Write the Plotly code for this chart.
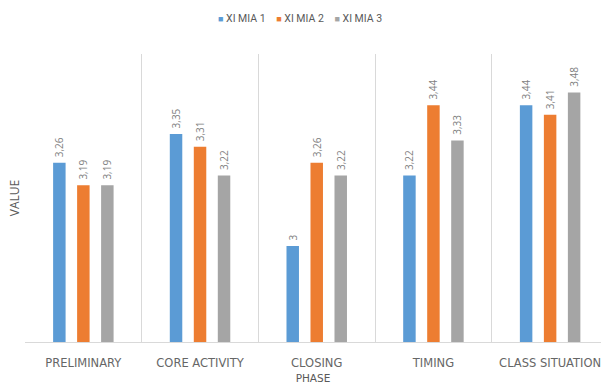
import plotly.graph_objects as go

categories = ["PRELIMINARY", "CORE ACTIVITY", "CLOSING", "TIMING", "CLASS SITUATION"]
series_names = ["XI MIA 1", "XI MIA 2", "XI MIA 3"]
mia1 = [3.26, 3.35, 3.00, 3.22, 3.44]
mia2 = [3.19, 3.31, 3.26, 3.44, 3.41]
mia3 = [3.19, 3.22, 3.22, 3.33, 3.48]
colors = ["#5B9BD5", "#ED7D31", "#A5A5A5"]

def lab(v):
    return f"{v:g}".replace(".", ",")

fig = go.Figure()
for name, vals, col in zip(series_names, [mia1, mia2, mia3], colors):
    fig.add_trace(go.Bar(
        x=categories, y=vals, name=name, marker=dict(color=col, line=dict(width=0)),
        text=[lab(v) for v in vals], texttemplate="\u00a0%{text}",
        textposition="outside", textangle=-90,
        textfont=dict(size=10, color="#7f7f7f", family="Open Sans"),
        cliponaxis=False, constraintext="none", showlegend=False,
    ))

legend_text = "\u2003".join(
    f'<span style="color:{c};font-size:9px">\u25a0</span> {n}' for n, c in zip(series_names, colors)
)
fig.add_annotation(text=legend_text, xref="paper", yref="paper", x=0.477, y=1.0 + (54 - 18) / 288,
                   xanchor="center", yanchor="middle", showarrow=False,
                   font=dict(size=10.5, color="#595959", family="Roboto"))

fig.update_layout(
    width=601, height=384,
    margin=dict(l=25, r=0, t=54, b=42),
    paper_bgcolor="white", plot_bgcolor="white",
    barmode="group", bargap=0.383, bargroupgap=0.48,
    font=dict(family="Open Sans", color="#595959", size=10),
    xaxis=dict(range=[-0.5, 4.436], tickson="boundaries", showgrid=True, automargin=False,
               gridcolor="#d9d9d9", gridwidth=1, showline=True, linecolor="#d9d9d9",
               ticks="", ticklabelstandoff=10,
               tickfont=dict(size=11.5, color="#666666", family="DejaVu Sans"),
               title=dict(text="PHASE", font=dict(size=10.5, color="#595959", family="DejaVu Sans"), standoff=17)),
    yaxis=dict(range=[2.7, 3.6], showgrid=False, showticklabels=False, zeroline=False,
               showline=False, automargin=False,
               title=dict(text="VALUE", font=dict(size=12, color="#595959"), standoff=1)),
)

fig.write_html("out.html")
